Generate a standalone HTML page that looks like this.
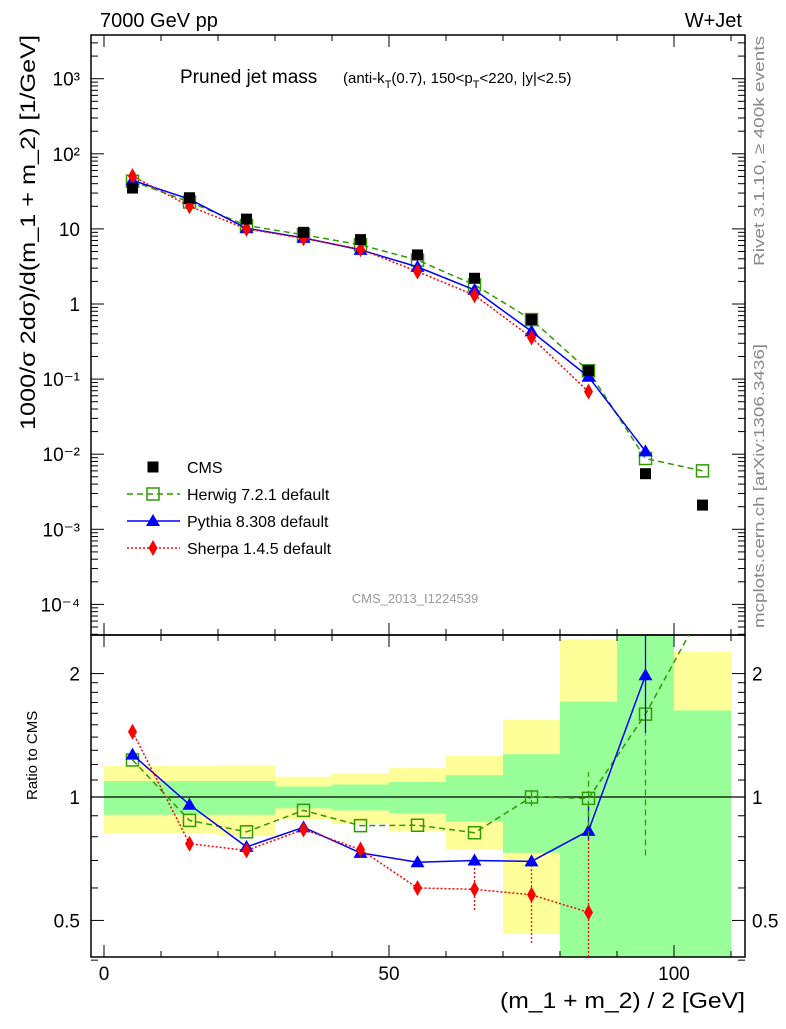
<!DOCTYPE html>
<html><head><meta charset="utf-8"><style>
body{margin:0;background:#fff}
svg text{font-family:"Liberation Sans",sans-serif}
</style></head><body>
<svg id="c" width="786" height="1024" xmlns="http://www.w3.org/2000/svg"></svg>
<script>
const xs=[5,15,25,35,45,55,65,75,85,95,105];
const cms=[35,26,13.5,9,7.2,4.5,2.2,0.62,0.13,0.0055,0.0021];
const herwig=[43.1,22.8,11.1,8.35,6.13,3.84,1.80,0.62,0.129,0.00876,0.006];
const pythia=[44.4,24.9,10.2,7.59,5.26,3.12,1.54,0.432,0.1075,0.0109];
const sherpa=[50.5,20.0,10.0,7.5,5.36,2.70,1.31,0.358,0.068];
const binEdges=[0,10,20,30,40,50,60,70,80,90,100,110];
const yelHi=[1.19,1.19,1.196,1.121,1.142,1.176,1.259,1.543,2.42,3,2.26];
const yelLo=[0.815,0.815,0.804,0.882,0.859,0.827,0.744,0.464,0.3,0.3,0.3];
const grnHi=[1.094,1.094,1.094,1.061,1.073,1.088,1.13,1.272,1.71,3,1.626];
const grnLo=[0.905,0.905,0.905,0.938,0.927,0.912,0.87,0.731,0.3,0.3,0.3];
const mainTicks=["10³","10²","10","1","10⁻¹","10⁻²","10⁻³","10⁻⁴"];
const S=document.getElementById('c');const NS='http://www.w3.org/2000/svg';
function el(t,a,txt){const e=document.createElementNS(NS,t);for(const k in a)e.setAttribute(k,a[k]);if(txt!==undefined)e.textContent=txt;S.appendChild(e);return e;}
const L=91,R=745,T=35,M=635,B=957;
const X=x=>104+5.7*x;
const Y=v=>304-75.1*Math.log10(v);
const YR=r=>797-410*Math.log10(r);
const clR=y=>Math.max(M,Math.min(B,y));
for(let i=0;i<xs.length;i++){
 let e=el('rect',{x:X(binEdges[i]),width:X(binEdges[i+1])-X(binEdges[i]),y:clR(YR(yelHi[i])),height:clR(YR(yelLo[i]))-clR(YR(yelHi[i])),fill:'#ffff99'});
 
 e=el('rect',{x:X(binEdges[i]),width:X(binEdges[i+1])-X(binEdges[i]),y:clR(YR(grnHi[i])),height:clR(YR(grnLo[i]))-clR(YR(grnHi[i])),fill:'#99ff99'});
 
}
el('line',{x1:L,x2:R,y1:YR(1),y2:YR(1),stroke:'#000','stroke-width':1.2});
let f=el('rect',{x:L,y:T,width:R-L,height:M-T,fill:'none',stroke:'#000','stroke-width':1.5});

f=el('rect',{x:L,y:M,width:R-L,height:B-M,fill:'none',stroke:'#000','stroke-width':1.5});

for(let v=0;v<=110;v+=10){const big=v%50==0;const l=big?12:6;
 [[M,M-l],[T,T+l],[B,B-l],[M,M+l]].forEach(p=>el('line',{x1:X(v),x2:X(v),y1:p[0],y2:p[1],stroke:'#000'}));
 if(big){const t=el('text',{x:X(v),y:980,'font-size':19,'text-anchor':'middle'},String(v));}}
for(let d=-5;d<=3;d++){for(let m=1;m<10;m++){const v=m*Math.pow(10,d);const y=Y(v);if(y<T||y>M)continue;const l=m==1?13:7;
 el('line',{x1:L,x2:L+l,y1:y,y2:y,stroke:'#000'});el('line',{x1:R,x2:R-l,y1:y,y2:y,stroke:'#000'});}}
mainTicks.forEach((s,i)=>{const t=el('text',{x:80,y:Y(Math.pow(10,3-i))+7,'font-size':19,'text-anchor':'end'},s);});
[0.4,0.5,0.6,0.7,0.8,0.9,1,2].forEach(r=>{const y=YR(r);const l=(r==0.5||r==1||r==2)?13:7;el('line',{x1:L,x2:L+l,y1:y,y2:y,stroke:'#000'});el('line',{x1:R,x2:R-l,y1:y,y2:y,stroke:'#000'});});
[1.1,1.2,1.3,1.4,1.5,1.6,1.7,1.8,1.9].forEach(r=>{const y=YR(r);el('line',{x1:L,x2:L+7,y1:y,y2:y,stroke:'#000'});el('line',{x1:R,x2:R-7,y1:y,y2:y,stroke:'#000'});});
[[0.5,'0.5'],[1,'1'],[2,'2']].forEach(p=>{let t=el('text',{x:80,y:YR(p[0])+7,'font-size':19,'text-anchor':'end'},p[1]);
 t=el('text',{x:752,y:YR(p[0])+7,'font-size':19},p[1]);});
function mark(shape,x,y,c){if(shape=='sq')return el('rect',{x:x-6,y:y-6,width:12,height:12,fill:'none',stroke:c,'stroke-width':1.5});
 if(shape=='fsq')return el('rect',{x:x-5.5,y:y-5.5,width:11,height:11,fill:c});
 if(shape=='tri')return el('polygon',{points:`${x},${y-7} ${x-7},${y+5} ${x+7},${y+5}`,fill:c});
 return el('polygon',{points:`${x},${y-8} ${x-4.5},${y} ${x},${y+8} ${x+4.5},${y}`,fill:c});}
const series=[[herwig,'#339900','6,4','sq','herwig'],[pythia,'#0000ff','','tri','pythia'],[sherpa,'#ff0000','2,2','dia','sherpa']];
const defs=el('defs',{});const cp=document.createElementNS(NS,'clipPath');cp.setAttribute('id','rc');defs.appendChild(cp);
const cr=document.createElementNS(NS,'rect');cr.setAttribute('x',L);cr.setAttribute('y',M);cr.setAttribute('width',R-L);cr.setAttribute('height',B-M);cp.appendChild(cr);
series.forEach(s=>{const [d,c,da,sh,nm]=s;
 let pts=d.map((v,i)=>X(xs[i])+','+Y(v)).join(' ');
 let p=el('polyline',{points:pts,fill:'none',stroke:c,'stroke-width':1.5,'stroke-dasharray':da});
 
 d.forEach((v,i)=>{const m=mark(sh,X(xs[i]),Y(v),c);});
 const rp=d.map((v,i)=>X(xs[i])+','+YR(v/cms[i])).join(' ');
 p=el('polyline',{points:rp,fill:'none',stroke:c,'stroke-width':1.5,'stroke-dasharray':da,'clip-path':'url(#rc)'});
 
 d.forEach((v,i)=>{const y=YR(v/cms[i]);if(y<M||y>B)return;const m=mark(sh,X(xs[i]),y,c);});
});
function eb(x,y1,y2,c,da){el('line',{x1:x,x2:x,y1:clR(y1),y2:clR(y2),stroke:c,'stroke-width':1.3,'stroke-dasharray':da||''});}
eb(X(95),YR(1.43),YR(3),'#0000ff');eb(X(95),YR(0.72),YR(1.42),'#339900','6,4');
eb(X(85),YR(0.79),YR(0.95),'#0000ff');eb(X(85),YR(0.3),YR(0.8),'#ff0000','2,2');eb(X(85),YR(0.8),YR(1.15),'#339900','6,4');
eb(X(75),YR(0.44),YR(0.68),'#ff0000','2,2');eb(X(65),YR(0.53),YR(0.68),'#ff0000','2,2');eb(X(75),YR(0.95),YR(1.06),'#339900','6,4');
eb(X(95),Y(0.004),Y(0.015),'#0000ff');eb(X(105),Y(0.0045),Y(0.0095),'#339900','6,4');eb(X(85),Y(0.045),Y(0.1),'#ff0000','2,2');
cms.forEach((v,i)=>{const m=mark('fsq',X(xs[i]),Y(v),'#000');});
const leg=[['CMS','#000','','fsq'],['Herwig 7.2.1 default','#339900','6,4','sq'],['Pythia 8.308 default','#0000ff','','tri'],['Sherpa 1.4.5 default','#ff0000','2,2','dia']];
leg.forEach((l,i)=>{const y=467+27*i;
 if(i>0){const ln=el('line',{x1:127,x2:180,y1:y,y2:y,stroke:l[1],'stroke-width':1.5,'stroke-dasharray':l[2]});}
 const m=mark(l[3],153,y,l[1]);
 const t=el('text',{x:187,y:y+6,'font-size':16},l[0]);});
let t=el('text',{x:100,y:27,'font-size':20},'7000 GeV pp');
t=el('text',{x:742,y:27,'font-size':20,'text-anchor':'end'},'W+Jet');
t=el('text',{x:180,y:83,'font-size':19},'Pruned jet mass');
t=el('text',{x:343,y:83,'font-size':15});t.innerHTML='(anti-k<tspan font-size="11" dy="5">T</tspan><tspan dy="-5">(0.7), 150&lt;p</tspan><tspan font-size="11" dy="5">T</tspan><tspan dy="-5">&lt;220, |y|&lt;2.5)</tspan>';

t=el('text',{x:415,y:603,'font-size':13,fill:'#999','text-anchor':'middle'},'CMS_2013_I1224539');
t=el('text',{x:745,y:1008,'font-size':22,'text-anchor':'end',textLength:245,lengthAdjust:'spacingAndGlyphs'},'(m_1 + m_2) / 2 [GeV]');
t=el('text',{x:0,y:0,'font-size':21,'text-anchor':'end',textLength:395,lengthAdjust:'spacingAndGlyphs',transform:'translate(35,35) rotate(-90)'},'1000/σ 2dσ)/d(m_1 + m_2) [1/GeV]');
t=el('text',{x:0,y:0,'font-size':15,'text-anchor':'start',transform:'translate(37,800) rotate(-90)'},'Ratio to CMS');
t=el('text',{x:0,y:0,'font-size':15,fill:'#888','text-anchor':'end',textLength:230,lengthAdjust:'spacingAndGlyphs',transform:'translate(764,36) rotate(-90)'},'Rivet 3.1.10, ≥ 400k events');
t=el('text',{x:0,y:0,'font-size':15,fill:'#888','text-anchor':'end',textLength:284,lengthAdjust:'spacingAndGlyphs',transform:'translate(764,344) rotate(-90)'},'mcplots.cern.ch [arXiv:1306.3436]');
</script>
</body></html>
